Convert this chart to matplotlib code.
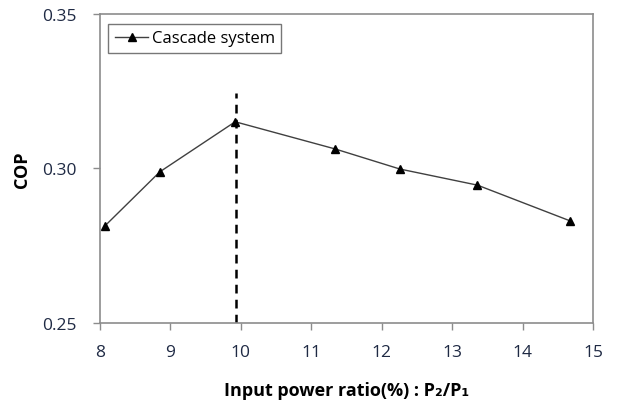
import matplotlib.pyplot as plt

# data
power_ratio = [8.07, 8.85, 9.92, 11.34, 12.26, 13.36, 14.68]
cop = [0.2814, 0.2989, 0.3151, 0.3063, 0.2998, 0.2946, 0.2830]
optimum_x = 9.93
optimum_top = 0.3245

plt.rcParams['font.family'] = ['Open Sans', 'DejaVu Sans']

fig = plt.figure(figsize=(6.17, 4.02), dpi=100)
ax = fig.add_axes([0.162, 0.194, 0.799, 0.769])

ax.plot(power_ratio, cop, color='#404040', lw=1.0, marker='^', ms=6,
        mfc='black', mec='black', label='Cascade system')
ax.plot([optimum_x, optimum_x], [0.25, optimum_top], color='black',
        lw=1.8, ls=(0, (3.5, 2.5)))

ax.set_xlim(8, 15)
ax.set_ylim(0.25, 0.35)
ax.set_xticks(range(8, 16))
ax.set_yticks([0.25, 0.30, 0.35])
ax.set_yticklabels(['0.25', '0.30', '0.35'])

for s in ax.spines.values():
    s.set_color('#8c8c8c')
    s.set_linewidth(1.2)
ax.tick_params(direction='out', length=5, color='#8c8c8c', width=1,
               labelcolor='#1f2a44', labelsize=12.5, pad=10)
ax.tick_params(axis='y', pad=12)

ax.set_xlabel('Input power ratio(%) : P₂/P₁', fontsize=13, fontweight='bold',
              labelpad=15)
ax.set_ylabel('COP', fontsize=13, fontweight='bold', labelpad=8)

leg = ax.legend(loc='upper left', frameon=True, fancybox=False, fontsize=12,
                borderpad=0.4, handlelength=2.0, handletextpad=0.2,
                bbox_to_anchor=(0.0, 0.995))
leg.get_frame().set_edgecolor('#555555')
leg.get_frame().set_linewidth(1.0)

fig.savefig('out.png', dpi=100)
